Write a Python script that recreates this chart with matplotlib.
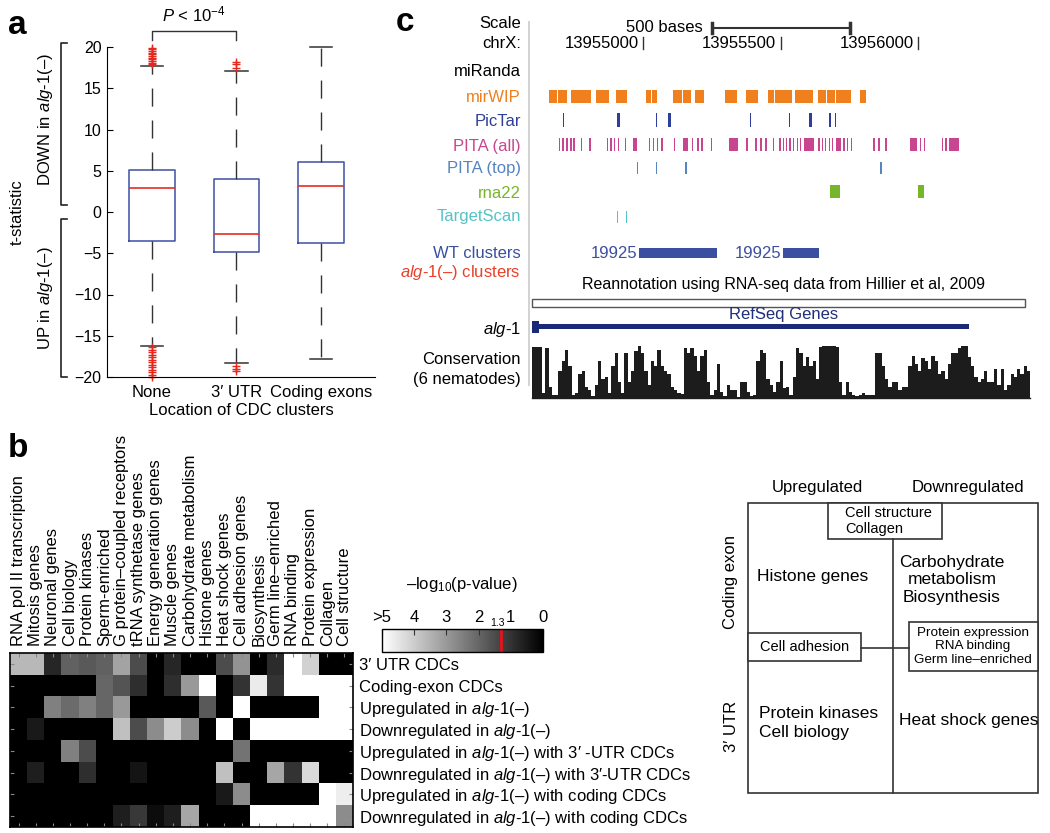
import numpy as np
import matplotlib.pyplot as plt
from matplotlib.patches import Rectangle
from matplotlib.transforms import blended_transform_factory
from matplotlib.cm import ScalarMappable
from matplotlib.colors import Normalize

plt.rcParams['font.family'] = ['Liberation Sans', 'DejaVu Sans']
plt.rcParams['mathtext.fontset'] = 'custom'
plt.rcParams['mathtext.rm'] = 'Liberation Sans'
plt.rcParams['mathtext.it'] = 'Liberation Sans:italic'
plt.rcParams['mathtext.bf'] = 'Liberation Sans:bold'
plt.rcParams['font.size'] = 12

# ---------------- panel a data ----------------
groups = ['None', '3′ UTR', 'Coding exons']
q1 = [-3.5, -4.9, -3.8]
med = [2.9, -2.7, 3.1]
q3 = [5.1, 4.0, 6.1]
whislo = [-16.2, -18.3, -17.8]
whishi = [17.7, 17.1, 20.0]
fliers = [
    [17.9, 18.1, 18.3, 18.5, 18.7, 18.9, 19.1, 19.3, 19.5, 19.7, 19.9,
     -16.4, -16.7, -17.0, -17.3, -17.6, -17.9, -18.2, -18.5, -18.8, -19.1,
     -19.4, -19.7, -20.0],
    [17.5, 17.9, 18.2, -18.7, -19.0, -19.3],
    [],
]

# ---------------- panel c data ----------------
track_names = ['Scale', 'chrX:', 'miRanda', 'mirWIP', 'PicTar', 'PITA (all)',
               'PITA (top)', 'rna22', 'TargetScan', 'WT clusters',
               r'$\mathit{alg}$-$\mathit{1}$(–) clusters', r'$\mathit{alg}$-$\mathit{1}$',
               'Conservation', '(6 nematodes)']
track_colors = ['black', 'black', 'black', '#f07f1e', '#2d3f99', '#c8468f',
                '#5584bf', '#77b52a', '#55c3c6', '#3a4fa0', '#e8402a', 'black',
                'black', 'black']
track_label_y = [23, 43, 72, 98, 121, 146, 169, 193, 216, 253, 273, 330, 360, 380]

coord_ticks = [13955000, 13955500, 13956000]
scale_bar = (13955250, 13955750)

mirwip_start = [13954655, 13954689, 13954736, 13954827, 13954901, 13955010, 13955032,
                13955107, 13955143, 13955188, 13955295, 13955372, 13955452, 13955479,
                13955551, 13955636, 13955669, 13955701, 13955788]
mirwip_end = [13954685, 13954721, 13954809, 13954876, 13954939, 13955027, 13955051,
              13955139, 13955172, 13955221, 13955339, 13955415, 13955476, 13955539,
              13955618, 13955664, 13955697, 13955754, 13955810]

pictar_pos = [13954709, 13954910, 13955048, 13955095, 13955388, 13955531, 13955608,
              13955679, 13955699]
pictar_w = [4, 9, 4, 8, 4, 4, 9, 9, 4]

pita_all_pos = [13954695, 13954707, 13954721, 13954736, 13954749, 13954776, 13954806,
                13954870, 13954882, 13954896, 13954910, 13954936, 13954971, 13955023,
                13955036, 13955051, 13955067, 13955114, 13955153, 13955179, 13955198,
                13955213, 13955247, 13955327, 13955376, 13955410, 13955427, 13955446,
                13955473, 13955497, 13955509, 13955521, 13955533, 13955545, 13955560,
                13955572, 13955601, 13955639, 13955651, 13955663, 13955676, 13955688,
                13955710, 13955730, 13955742, 13955756, 13955839, 13955857, 13955882,
                13955982, 13956008, 13956021, 13956088, 13956100, 13956130]
pita_all_w = [7, 7, 7, 7, 7, 5, 5, 5, 5, 5, 5, 5, 15, 5, 5, 5, 5, 5, 18, 5, 5,
              5, 5, 35, 5, 5, 5, 5, 5, 5, 5, 5, 5, 5, 5, 5, 35, 5, 5, 5, 5, 5,
              20, 5, 5, 5, 5, 5, 5, 25, 5, 5, 5, 5, 35]

pita_top_pos = [13954978, 13955048, 13955154, 13955864]
pita_top_w = [4, 4, 8, 4]

rna22_start = [13955679, 13956000]
rna22_end = [13955713, 13956022]

targetscan_pos = [13954905, 13954939]
targetscan_w = [4, 4]

wt_start = [13954985, 13955509]
wt_end = [13955269, 13955640]
wt_labels = ['19925', '19925']

reannot = (13954594, 13956388)
gene = (13954594, 13956184)
gene_utr = (13954594, 13954622)

cons_start = 13954595
cons_bin = 12
cons = [0.97, 0.97, 0.97, 0.1, 0.95, 0.2, 0.05, 0.06, 0.5, 0.7,
        0.9, 0.6, 0.05, 0.1, 0.45, 0.5, 0.2, 0.15, 0.03, 0.25,
        0.7, 0.35, 0.4, 0.1, 0.6, 0.85, 0.3, 0.1, 0.85, 0.3,
        0.5, 0.88, 0.98, 0.85, 0.5, 0.25, 0.7, 0.6, 0.9, 0.6,
        0.5, 0.45, 0.2, 0.15, 0.1, 0.08, 0.95, 0.85, 0.95, 0.8,
        0.5, 0.8, 0.9, 0.3, 0.05, 0.15, 0.65, 0.12, 0.03, 0.25,
        0.15, 0.15, 0.02, 0.3, 0.3, 0.12, 0.03, 0.05, 0.7, 0.9,
        0.85, 0.35, 0.25, 0.12, 0.3, 0.7, 0.18, 0.2, 0.05, 0.4,
        0.95, 0.85, 0.6, 0.78, 0.6, 0.7, 0.35, 0.97, 0.98, 0.98,
        0.98, 0.98, 0.97, 0.3, 0.05, 0.3, 0.12, 0.05, 0.04, 0.05,
        0.1, 0.05, 0.05, 0.06, 0.85, 0.85, 0.6, 0.35, 0.2, 0.3,
        0.3, 0.15, 0.2, 0.2, 0.6, 0.8, 0.65, 0.5, 0.75, 0.7,
        0.55, 0.8, 0.7, 0.45, 0.5, 0.35, 0.65, 0.85, 0.85, 0.95,
        0.98, 0.98, 0.78, 0.6, 0.4, 0.3, 0.35, 0.5, 0.3, 0.3,
        0.55, 0.25, 0.55, 0.15, 0.25, 0.45, 0.4, 0.55, 0.45, 0.6,
        0.5]

# ---------------- panel b data ----------------
hm_cols = ['RNA pol II transcription', 'Mitosis genes', 'Neuronal genes', 'Cell biology',
           'Protein kinases', 'Sperm-enriched', 'G protein–coupled receptors',
           'tRNA synthetase genes', 'Energy generation genes', 'Muscle genes',
           'Carbohydrate metabolism', 'Histone genes', 'Heat shock genes',
           'Cell adhesion genes', 'Biosynthesis', 'Germ line–enriched', 'RNA binding',
           'Protein expression', 'Collagen', 'Cell structure']
alg = r'$\mathit{alg}$-$\mathit{1}$(–)'
hm_rows = ['3′ UTR CDCs', 'Coding-exon CDCs',
           'Upregulated in ' + alg, 'Downregulated in ' + alg,
           'Upregulated in ' + alg + ' with 3′ -UTR CDCs',
           'Downregulated in ' + alg + ' with 3′-UTR CDCs',
           'Upregulated in ' + alg + ' with coding CDCs',
           'Downregulated in ' + alg + ' with coding CDCs']
hm = np.array([
    [3.6, 3.6, 0.75, 1.9, 1.75, 1.9, 3.2, 1.5, 0, 0.75, 0, 0, 1.5, 2.9, 0, 0.85, 5, 4.1, 0, 0],
    [0, 0, 0, 0, 0, 2.0, 1.65, 0.9, 0, 0.9, 3.0, 5, 0, 1.0, 4.6, 1.0, 5, 5, 5, 5],
    [0, 0, 2.5, 2.1, 2.5, 2.0, 3.0, 0, 0, 0, 0, 1.75, 0, 5, 0, 0, 0, 0, 5, 5],
    [0, 0.5, 0, 0, 0, 0, 3.75, 1.5, 2.75, 4.0, 2.75, 0, 5, 0, 5, 5, 5, 5, 5, 5],
    [0, 0, 0, 2.5, 1.5, 0, 0, 0, 0, 0, 0, 0, 0, 2.25, 0, 0, 0, 0, 0, 0],
    [0, 0.6, 0, 0, 0.9, 0, 0, 0.4, 0, 0, 0, 0, 3.75, 0, 0, 3.25, 1.0, 4.25, 0, 0],
    [0, 0, 0, 0, 0, 0, 0, 0, 0, 0, 0, 0, 0.5, 2.75, 0, 0, 0, 0, 5, 4.65],
    [0, 0, 0, 0, 0, 0, 0.6, 1.1, 0.25, 0.6, 3.25, 0, 0, 0, 5, 5, 5, 5, 5, 2.75],
])
cb_ticks = [5, 4, 3, 2, 1, 0]
cb_labels = ['>5', '4', '3', '2', '1', '0']
p_cut = 1.3

W, H = 1050, 833
fig = plt.figure(figsize=(10.5, 8.33), dpi=100)


def px_axes(x0, y0, x1, y1):
    return fig.add_axes([x0 / W, 1 - y1 / H, (x1 - x0) / W, (y1 - y0) / H])


# ================= panel a =================
ax_a = px_axes(107, 47, 375, 377)
stats = []
for i in range(3):
    stats.append(dict(q1=q1[i], med=med[i], q3=q3[i], whislo=whislo[i],
                      whishi=whishi[i], fliers=fliers[i], label=groups[i]))
art = ax_a.bxp(stats, positions=[1, 2, 3], widths=0.54, capwidths=0.27,
               boxprops=dict(color='#3d4fa6', lw=1.1),
               medianprops=dict(color='#e0301e', lw=1.2),
               whiskerprops=dict(color='#333333', lw=1, linestyle=(0, (13, 10))),
               capprops=dict(color='#333333', lw=1.1),
               flierprops=dict(marker='+', markeredgecolor='#e8261c', markersize=6,
                               linestyle='none'))
for key in art:
    for a in art[key]:
        a.set_clip_on(False)
ax_a.set_xlim(0.467, 3.64)
ax_a.set_ylim(-20, 20)
ax_a.set_yticks(range(-20, 21, 5))
ax_a.tick_params(axis='y', direction='in', length=4, labelsize=11.5, pad=4)
ax_a.tick_params(axis='x', length=0, labelsize=12, pad=6)
ax_a.spines['top'].set_visible(False)
ax_a.spines['right'].set_visible(False)
ax_a.set_xlabel('Location of CDC clusters', fontsize=12, labelpad=2)

tr = blended_transform_factory(ax_a.transAxes, ax_a.transData)
bx, tx = -0.1716, -0.149
ax_a.plot([tx, bx, bx, tx], [20.5, 20.5, 0.85, 0.85], color='#222', lw=1.2,
          transform=tr, clip_on=False)
ax_a.plot([tx, bx, bx, tx], [-0.85, -0.85, -20, -20], color='#222', lw=1.2,
          transform=tr, clip_on=False)
ax_a.text(-0.231, 11.2, 'DOWN in ' + alg, rotation=90, ha='center', va='center',
          transform=tr, fontsize=12)
ax_a.text(-0.231, -10.4, 'UP in ' + alg, rotation=90, ha='center', va='center',
          transform=tr, fontsize=12)
ax_a.text(-0.336, 0, 't-statistic', rotation=90, ha='center', va='center',
          transform=tr, fontsize=12)
ax_a.plot([1, 1, 2, 2], [20.9, 21.9, 21.9, 20.9], color='#333', lw=1, clip_on=False)
ax_a.text(1.5, 24.0, r'$\mathit{P}$ < 10$^{-4}$', ha='center', va='center', fontsize=12)

# ================= panel c =================
ax_c = px_axes(529, 10, 1040, 402)
ax_c.set_xlim(13954584, 13956442)
ax_c.set_ylim(402, 10)
ax_c.axis('off')
ax_c.plot([13954584, 13954584], [22, 385], color='#cfcfcf', lw=1.3, clip_on=False)

trc = blended_transform_factory(ax_c.transAxes, ax_c.transData)
for name, col, yy in zip(track_names, track_colors, track_label_y):
    ax_c.text(-0.016, yy, name, color=col, ha='right', va='center', fontsize=12,
              transform=trc)

s0, s1 = scale_bar
ax_c.plot([s0, s1], [28, 28], color='#333', lw=1.5)
ax_c.plot([s0, s0], [23, 33], color='#333', lw=2.5)
ax_c.plot([s1, s1], [23, 33], color='#333', lw=2.5)
ax_c.text(s0 - 35, 27, '500 bases', ha='right', va='center', fontsize=12)
for pos in coord_ticks:
    ax_c.plot([pos, pos], [37, 49], color='#333', lw=1)
    ax_c.text(pos - 17, 43, str(pos), ha='right', va='center', fontsize=12)


def spans(starts, widths):
    return list(zip(starts, widths))


ax_c.broken_barh(spans(mirwip_start, np.subtract(mirwip_end, mirwip_start)),
                 (90.5, 13), facecolors='#f07f1e')
ax_c.broken_barh(spans(np.subtract(pictar_pos, np.divide(pictar_w, 2)), pictar_w),
                 (113, 14), facecolors='#2d3f99')
ax_c.broken_barh(spans(np.subtract(pita_all_pos, np.divide(pita_all_w, 2)), pita_all_w),
                 (138, 13), facecolors='#c8468f')
ax_c.broken_barh(spans(np.subtract(pita_top_pos, np.divide(pita_top_w, 2)), pita_top_w),
                 (162, 12), facecolors='#5584bf')
ax_c.broken_barh(spans(rna22_start, np.subtract(rna22_end, rna22_start)),
                 (185, 13), facecolors='#77b52a')
ax_c.broken_barh(spans(np.subtract(targetscan_pos, np.divide(targetscan_w, 2)), targetscan_w),
                 (211, 12), facecolors='#55c3c6')
ax_c.broken_barh(spans(wt_start, np.subtract(wt_end, wt_start)),
                 (248, 10), facecolors='#3a4fa0')
for st, lab in zip(wt_start, wt_labels):
    ax_c.text(st - 6, 253, lab, color='#3a4fa0', ha='right', va='center', fontsize=12)

ax_c.text(13955508, 284, 'Reannotation using RNA-seq data from Hillier et al, 2009',
          ha='center', va='center', fontsize=11.5)
ax_c.add_patch(Rectangle((reannot[0], 299), reannot[1] - reannot[0], 8,
                         facecolor='white', edgecolor='#555', lw=1))
ax_c.text(13955508, 315, 'RefSeq Genes', color='#1f2f7a', ha='center', va='center',
          fontsize=12)
ax_c.broken_barh([(gene[0], gene[1] - gene[0])], (324.5, 5), facecolors='#1a2a78')
ax_c.broken_barh([(gene_utr[0], gene_utr[1] - gene_utr[0])], (321.5, 11.5),
                 facecolors='#1a2a78')

cons_base, cons_h = 398, 53
cons_x = cons_start + np.arange(len(cons)) * cons_bin
ax_c.bar(cons_x, [-v * cons_h for v in cons], width=cons_bin, bottom=cons_base,
         align='edge', color='#1c1c1c', linewidth=0)
ax_c.plot([cons_start, cons_start + len(cons) * cons_bin], [cons_base, cons_base],
          color='#1c1c1c', lw=1)

# ================= panel b heatmap =================
ax_b = px_axes(10, 653, 353, 827)
ax_b.imshow(hm, cmap='gray', vmin=0, vmax=5, aspect='auto', interpolation='nearest')
ax_b.set_xticks(range(len(hm_cols)))
ax_b.set_xticklabels(hm_cols, rotation=90, fontsize=12)
ax_b.set_yticks(range(len(hm_rows)))
ax_b.set_yticklabels(hm_rows, fontsize=12)
ax_b.tick_params(axis='x', direction='in', length=3, top=True, bottom=True,
                 labeltop=True, labelbottom=False, pad=5, color='#888')
ax_b.tick_params(axis='y', direction='in', length=3, left=True, right=True,
                 labelleft=False, labelright=True, pad=4, color='#888')
for sp in ax_b.spines.values():
    sp.set_linewidth(1.2)

cax = px_axes(382, 629, 543, 652)
cb = fig.colorbar(ScalarMappable(norm=Normalize(0, 5), cmap='gray'), cax=cax,
                  orientation='horizontal', ticklocation='top')
cax.invert_xaxis()
cb.set_ticks(cb_ticks)
cb.set_ticklabels(cb_labels)
cax.tick_params(direction='in', length=4, pad=3, labelsize=12, color='#333')
cb.outline.set_linewidth(1)
cax.axvline(p_cut, color='#e8121c', lw=2)
cax.text(p_cut + 0.12, 1.04, '1.3', fontsize=7.5, ha='center', va='bottom',
         transform=blended_transform_factory(cax.transData, cax.transAxes))
fig.text(462 / W, 1 - 585 / H, r'–log$_{10}$(p-value)', ha='center', va='center',
         fontsize=12)

# ================= overlay (letters + schematic) =================
ov = fig.add_axes([0, 0, 1, 1])
ov.set_xlim(0, W)
ov.set_ylim(H, 0)
ov.axis('off')
ov.patch.set_alpha(0)

ov.text(8, 25, 'a', fontsize=24, fontweight='bold', va='center')
ov.text(8, 448, 'b', fontsize=24, fontweight='bold', va='center')
ov.text(396, 22, 'c', fontsize=24, fontweight='bold', va='center')

lc = '#333333'
ov.text(817, 487, 'Upregulated', ha='center', va='center', fontsize=12)
ov.text(968, 487, 'Downregulated', ha='center', va='center', fontsize=12)
ov.add_patch(Rectangle((748, 503), 290, 290, fill=False, edgecolor=lc, lw=1.2))
ov.plot([893, 893], [539, 793], color=lc, lw=1.2)
ov.add_patch(Rectangle((828, 503), 114, 36, facecolor='white', edgecolor=lc, lw=1.2))
ov.text(845, 521, 'Cell structure\nCollagen', ha='left', va='center', fontsize=10.5,
        linespacing=1.15)
ov.text(757, 577, 'Histone genes', ha='left', va='center', fontsize=12.5)
ov.text(952, 580, 'Carbohydrate\nmetabolism\nBiosynthesis', ha='center', va='center',
        fontsize=12.5, linespacing=1.2)
ov.plot([861, 909], [648, 648], color=lc, lw=1.2)
ov.add_patch(Rectangle((748, 633), 113, 28, facecolor='white', edgecolor=lc, lw=1.2))
ov.text(805, 647, 'Cell adhesion', ha='center', va='center', fontsize=10.5)
ov.add_patch(Rectangle((909, 622), 129, 49, facecolor='white', edgecolor=lc, lw=1.2))
ov.text(973, 646.5, 'Protein expression\nRNA binding\nGerm line–enriched',
        ha='center', va='center', fontsize=9.7, linespacing=1.15)
ov.text(759, 723, 'Protein kinases\nCell biology', ha='left', va='center',
        fontsize=12.5, linespacing=1.25)
ov.text(899, 721, 'Heat shock genes', ha='left', va='center', fontsize=12.5)
ov.text(731, 582, 'Coding exon', rotation=90, ha='center', va='center', fontsize=12)
ov.text(731, 726, '3′ UTR', rotation=90, ha='center', va='center', fontsize=12)

fig.savefig('out.png', dpi=100)
